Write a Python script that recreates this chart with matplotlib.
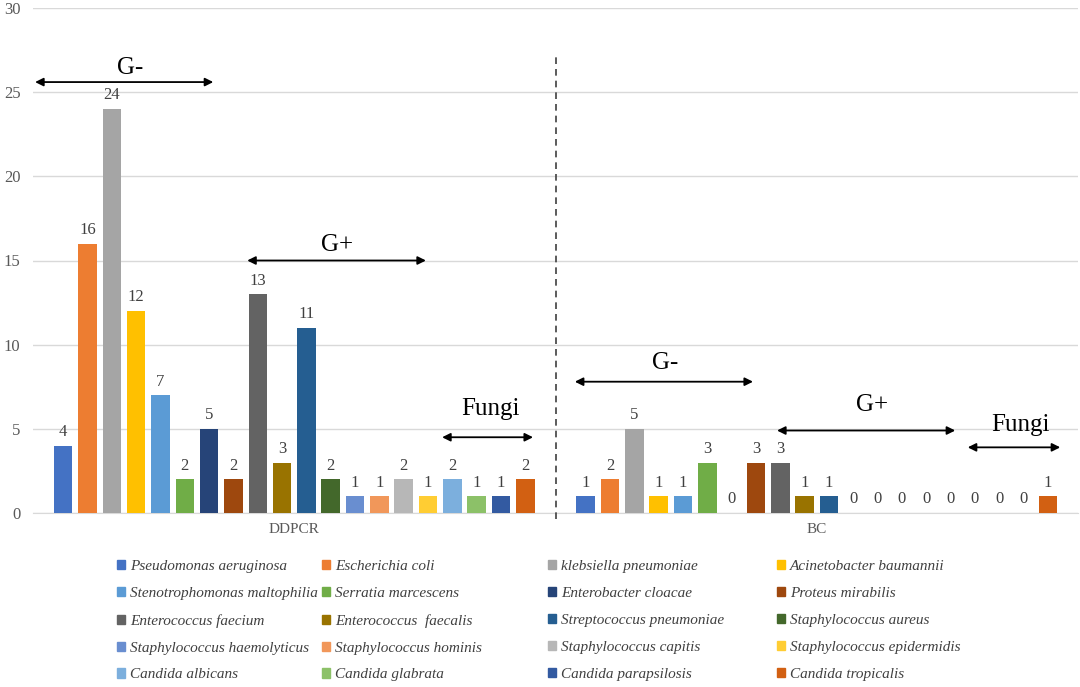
import matplotlib

matplotlib.use("Agg")
import matplotlib.pyplot as plt
import numpy as np
from matplotlib.patches import Patch

plt.rcParams["font.family"] = ["Liberation Serif", "DejaVu Serif"]

# ---- data -------------------------------------------------------------
groups = ["DDPCR", "BC"]
species = [
    "Pseudomonas aeruginosa", "Escherichia coli", "klebsiella pneumoniae",
    "Acinetobacter baumannii", "Stenotrophomonas maltophilia", "Serratia marcescens",
    "Enterobacter cloacae", "Proteus mirabilis", "Enterococcus faecium",
    "Enterococcus  faecalis", "Streptococcus pneumoniae", "Staphylococcus aureus",
    "Staphylococcus haemolyticus", "Staphylococcus hominis", "Staphylococcus capitis",
    "Staphylococcus epidermidis", "Candida albicans", "Candida glabrata",
    "Candida parapsilosis", "Candida tropicalis",
]
ddpcr_counts = [4, 16, 24, 12, 7, 2, 5, 2, 13, 3, 11, 2, 1, 1, 2, 1, 2, 1, 1, 2]
bc_counts = [1, 2, 5, 1, 1, 3, 0, 3, 3, 1, 1, 0, 0, 0, 0, 0, 0, 0, 0, 1]
colors = [
    "#4472C4", "#ED7D31", "#A5A5A5", "#FFC000", "#5B9BD5", "#70AD47",
    "#264478", "#9E480E", "#636363", "#997300", "#255E91", "#43682B",
    "#698ED0", "#F1975A", "#B7B7B7", "#FFCD33", "#7CAFDD", "#8CC168",
    "#335AA1", "#D26012",
]

# group annotations: (label, x_start, x_end, arrow_y, label_x, label_y)
brackets = [
    ("G-", -0.496, -0.155, 25.6, -0.314, 26.45),
    ("G+", -0.090, 0.252, 15.0, 0.082, 15.9),
    ("Fungi", 0.283, 0.457, 4.5, 0.376, 6.2),
    ("G-", 0.537, 0.878, 7.8, 0.710, 8.9),
    ("G+", 0.924, 1.265, 4.9, 1.106, 6.4),
    ("Fungi", 1.289, 1.466, 3.9, 1.389, 5.2),
]

# ---- plot -------------------------------------------------------------
values = np.array([ddpcr_counts, bc_counts])  # groups x species
x = np.arange(len(groups))
n = len(species)
slot = 0.04655
width = 0.0354

fig = plt.figure(figsize=(10.8, 6.87), dpi=100)
ax = fig.add_axes([33 / 1080, 1 - 513 / 687, 1045 / 1080, 505 / 687])

for i, name in enumerate(species):
    pos = x + (i - (n - 1) / 2) * slot
    bars = ax.bar(pos, values[:, i], width, color=colors[i], label=name, zorder=3)
    for bar, val in zip(bars, values[:, i]):
        ax.annotate(
            f"{val}",
            (bar.get_x() + bar.get_width() / 2, bar.get_height()),
            textcoords="offset points",
            xytext=(0, 4),
            ha="center",
            va="bottom",
            fontsize=12,
            color="#404040",
        )

for label, x0, x1, ya, lx, ly in brackets:
    ax.annotate(
        "", xy=(x0, ya), xytext=(x1, ya),
        arrowprops=dict(arrowstyle="<|-|>", color="black", lw=1.3,
                        mutation_scale=12, shrinkA=0, shrinkB=0),
        annotation_clip=False,
    )
    ax.text(lx, ly, label, ha="center", va="center", fontsize=18, color="black")

# divider between the two methods
ax.plot([0.5, 0.5], [-0.35, 27.1], ls=(0, (4, 3)), color="#404040", lw=1.2,
        clip_on=False, zorder=4)

ax.set_xlim(-0.5, 1.5)
ax.set_ylim(0, 30)
ax.set_yticks(range(0, 31, 5))
ax.set_xticks(x)
ax.set_xticklabels(groups)
ax.tick_params(axis="y", length=0, pad=9, labelsize=12, labelcolor="#595959")
ax.tick_params(axis="x", length=0, pad=7, labelsize=11, labelcolor="#595959")
ax.grid(axis="y", color="#D9D9D9", lw=1, zorder=0)
for side in ["left", "right", "top"]:
    ax.spines[side].set_visible(False)
ax.spines["bottom"].set_color("#D9D9D9")

# legend: four columns, row-major order as in the source
handles = [Patch(color=c) for c in colors]
col_x = [117, 322, 548, 777]
for j, cx in enumerate(col_x):
    fig.legend(
        handles[j::4], species[j::4],
        loc="upper left", bbox_to_anchor=(cx / 1080, 1 - 560 / 687),
        frameon=False, borderpad=0, borderaxespad=0,
        handlelength=0.55, handleheight=0.55, handletextpad=0.3,
        labelspacing=0.91, prop={"style": "italic", "size": 11},
        labelcolor="#404040",
    )

fig.savefig("out.png", dpi=100)
